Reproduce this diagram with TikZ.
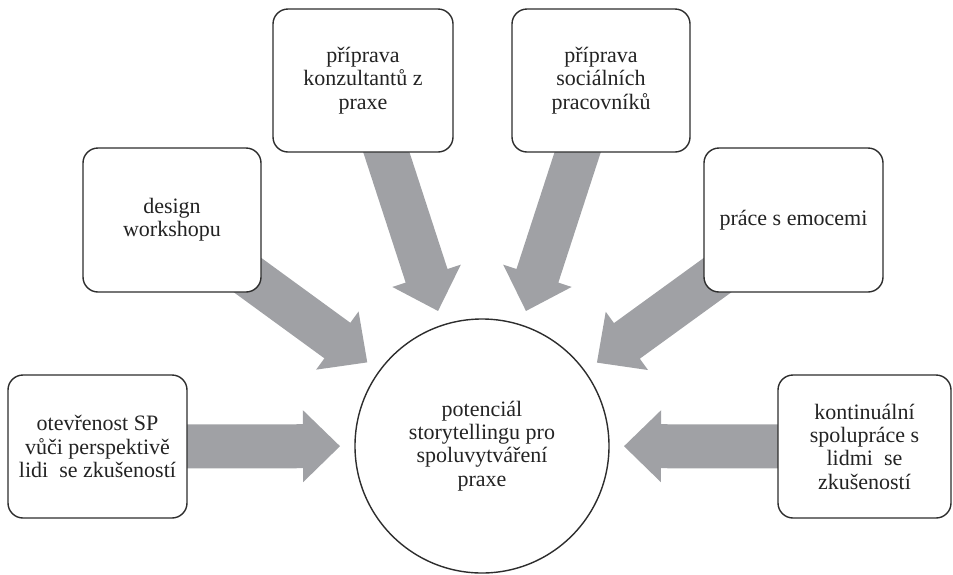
\documentclass[tikz,border=0pt]{standalone}
\usepackage{fontspec}
\setmainfont{Liberation Serif}
\usetikzlibrary{calc,backgrounds}
\definecolor{arrowgray}{RGB}{160,161,165}
\definecolor{linedark}{RGB}{45,45,45}
\definecolor{textdark}{RGB}{35,35,35}
\tikzset{
  box/.style={draw=linedark, line width=1.4pt, rounded corners=15pt, fill=white,
    minimum height=143pt, align=center, text=textdark,
    font=\fontsize{22}{23.3}\selectfont},
  hub/.style={draw=linedark, line width=1.4pt, circle, fill=white, minimum size=254pt,
    inner sep=0pt, align=center, text=textdark, font=\fontsize{22}{23.3}\selectfont},
  fat/.style={fill=arrowgray, draw=none}
}
\newcommand{\fatarrow}[2]{%
  \coordinate (#2t) at ($(ctr.center)!142pt!(#1.center)$);
  \coordinate (#2h) at ($(#2t)!37pt!(#1.center)$);
  \fill[fat] ($(#1.center)!22pt!90:(#2t)$) -- ($(#2h)!22pt!90:(#2t)$) --
    ($(#2h)!36pt!90:(#2t)$) -- (#2t) -- ($(#2h)!36pt!-90:(#2t)$) --
    ($(#2h)!22pt!-90:(#2t)$) -- ($(#1.center)!22pt!-90:(#2t)$) -- cycle;
}
\begin{document}
\begin{tikzpicture}[x=1pt,y=-1pt]
\useasboundingbox (0,0) rectangle (953,574);
\node[hub] (ctr) at (482,446) {potenciál\\storytellingu pro\\spoluvytváření\\praxe};
\node[box, minimum width=179pt] (left) at (97.5,446.5) {otevřenost SP\\vůči perspektivě\\lidi~ se zkušeností};
\node[box, minimum width=178pt, minimum height=144pt] (design) at (172,220) {design\\workshopu};
\node[box, minimum width=180pt] (tl) at (363,80.5) {příprava\\konzultantů z\\praxe};
\node[box, minimum width=178pt] (tr) at (601,80.5) {příprava\\sociálních\\pracovníků};
\node[box, minimum width=179pt, minimum height=144pt] (emo) at (793.5,220) {práce s emocemi};
\node[box, minimum width=173pt] (right) at (864.5,446.5) {kontinuální\\spolupráce s\\lidmi~ se\\zkušeností};
\begin{scope}[on background layer]
\fatarrow{left}{a1}
\fatarrow{design}{a2}
\fatarrow{tl}{a3}
\fatarrow{tr}{a4}
\fatarrow{emo}{a5}
\fatarrow{right}{a6}
\end{scope}
\end{tikzpicture}
\end{document}
